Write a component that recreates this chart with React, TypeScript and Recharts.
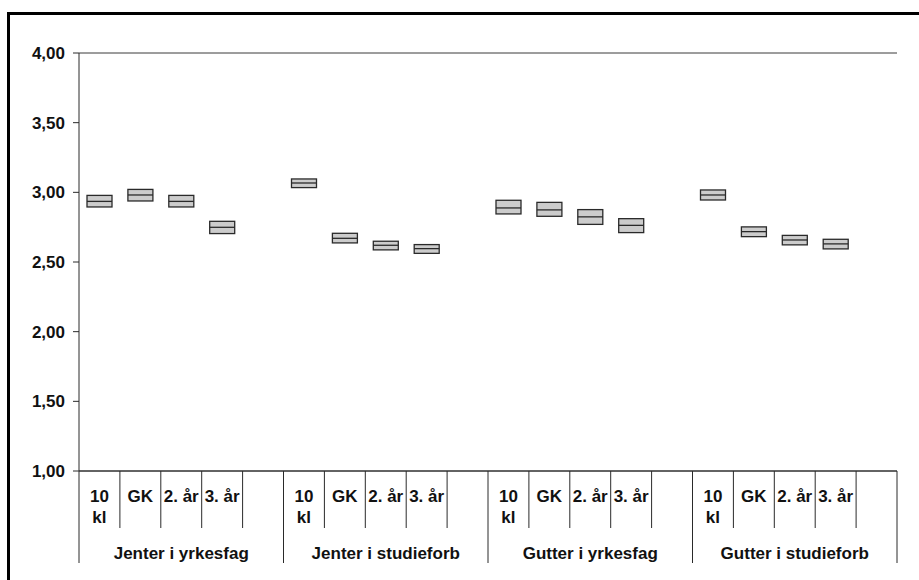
import React from "react";
import { ComposedChart, Bar, XAxis, YAxis, CartesianGrid } from "recharts";

const groups = ["Jenter i yrkesfag", "Jenter i studieforb", "Gutter i yrkesfag", "Gutter i studieforb"];
const levels = ["10\nkl", "GK", "2. år", "3. år", ""];

// per group: values for 10 kl, GK, 2. år, 3. år
const lowValues = [
  [2.895, 2.938, 2.895, 2.704],
  [3.034, 2.637, 2.587, 2.562],
  [2.845, 2.828, 2.770, 2.711],
  [2.945, 2.682, 2.623, 2.594],
];
const midValues = [
  [2.935, 2.981, 2.935, 2.749],
  [3.067, 2.670, 2.620, 2.596],
  [2.888, 2.874, 2.824, 2.763],
  [2.981, 2.718, 2.658, 2.630],
];
const highValues = [
  [2.978, 3.021, 2.978, 2.792],
  [3.096, 2.706, 2.649, 2.625],
  [2.943, 2.928, 2.876, 2.811],
  [3.017, 2.752, 2.691, 2.663],
];
const yTicks = [1, 1.5, 2, 2.5, 3, 3.5, 4];

type Row = { id: string; group: string; label: string; level: number; low: number | null; mid: number | null; high: number | null };

const rows: Row[] = [];
groups.forEach((g, gi) => {
  levels.forEach((l, li) => {
    const has = li < 4;
    rows.push({
      id: `${gi}-${li}`,
      group: g,
      label: l,
      level: li,
      low: has ? lowValues[gi][li] : null,
      mid: has ? midValues[gi][li] : null,
      high: has ? highValues[gi][li] : null,
    });
  });
});

const W = 919;
const H = 580;
const M = { top: 53, right: 22, bottom: 0, left: 9 };
const Y_W = 70;
const X_H = 109;
const PLOT_W = W - M.left - Y_W - M.right;
const BW = PLOT_W / rows.length;
const FONT = "'Liberation Sans', Arial, sans-serif";
const TXT = "#111";
const LINE = "#2a2a2a";

function BoxShape(props: any) {
  const { x, y, width, height, payload } = props;
  if (payload == null || payload.low == null || !isFinite(y) || !isFinite(height)) return null;
  const top = Math.min(y, y + height);
  const h = Math.abs(height);
  const midY = top + (h * (payload.high - payload.mid)) / (payload.high - payload.low);
  return (
    <g>
      <rect x={x} y={top} width={width} height={h} fill="#cccccc" stroke="#2a2a2a" strokeWidth={1.3} />
      <line x1={x} x2={x + width} y1={midY} y2={midY} stroke="#2a2a2a" strokeWidth={1.3} />
    </g>
  );
}

function XTick(props: any) {
  const { x, y, payload } = props;
  const i = payload.index;
  const row = rows[i];
  if (!row) return null;
  const lines = row.label ? row.label.split("\n") : [];
  const right = x + BW / 2;
  const left = x - BW / 2;
  return (
    <g>
      {i === 0 && <line x1={left} x2={left} y1={y} y2={y + 92} stroke={LINE} strokeWidth={1} />}
      <line x1={right} x2={right} y1={y} y2={row.level === 4 ? y + 92 : y + 57} stroke={LINE} strokeWidth={1} />
      {lines.map((t: string, k: number) => (
        <text key={k} x={x} y={y + 31 + k * 21} textAnchor="middle" fontFamily={FONT} fontWeight="bold" fontSize={17} fill={TXT}>
          {t}
        </text>
      ))}
      {row.level === 2 && (
        <text x={x} y={y + 88} textAnchor="middle" fontFamily={FONT} fontWeight="bold" fontSize={17} fill={TXT}>
          {row.group}
        </text>
      )}
    </g>
  );
}

function YTick(props: any) {
  const { x, y, payload } = props;
  return (
    <text x={x} y={y + 6} textAnchor="end" fontFamily={FONT} fontWeight="bold" fontSize={17} fill={TXT}>
      {Number(payload.value).toFixed(2).replace(".", ",")}
    </text>
  );
}

export default function App() {
  return (
    <div style={{ position: "absolute", left: 0, top: 0, width: W, height: H, background: "#fff", overflow: "hidden" }}>
      <div
        style={{
          position: "absolute",
          left: 7,
          top: 12,
          width: W - 7,
          height: H - 12,
          borderTop: "3px solid #000",
          borderLeft: "3px solid #000",
          boxSizing: "border-box",
        }}
      />
      <div style={{ position: "absolute", left: 0, top: 0 }}>
        <ComposedChart width={W} height={H} data={rows} margin={M} barSize={25}>
          <CartesianGrid vertical={false} stroke="#3a3a3a" strokeWidth={1} />
          <XAxis
            dataKey="id"
            type="category"
            height={X_H}
            interval={0}
            tickSize={0}
            tickMargin={0}
            tickLine={false}
            axisLine={{ stroke: LINE, strokeWidth: 1 }}
            tick={<XTick />}
          />
          <YAxis
            yAxisId="left"
            domain={[1, 4]}
            ticks={yTicks}
            type="number"
            width={Y_W}
            tickSize={6}
            tickMargin={8}
            interval={0}
            tickLine={{ stroke: LINE }}
            axisLine={{ stroke: LINE, strokeWidth: 1 }}
            tick={<YTick />}
          />
          <YAxis
            yAxisId="right"
            orientation="right"
            domain={[1, 4]}
            type="number"
            width={0}
            tick={false}
            tickLine={false}
            axisLine={{ stroke: "#c4c4c4", strokeWidth: 2 }}
          />
          <Bar
            yAxisId="left"
            dataKey={(r: Row) => (r.low == null ? null : [r.low, r.high])}
            isAnimationActive={false}
            shape={<BoxShape />}
          />
        </ComposedChart>
      </div>
    </div>
  );
}
